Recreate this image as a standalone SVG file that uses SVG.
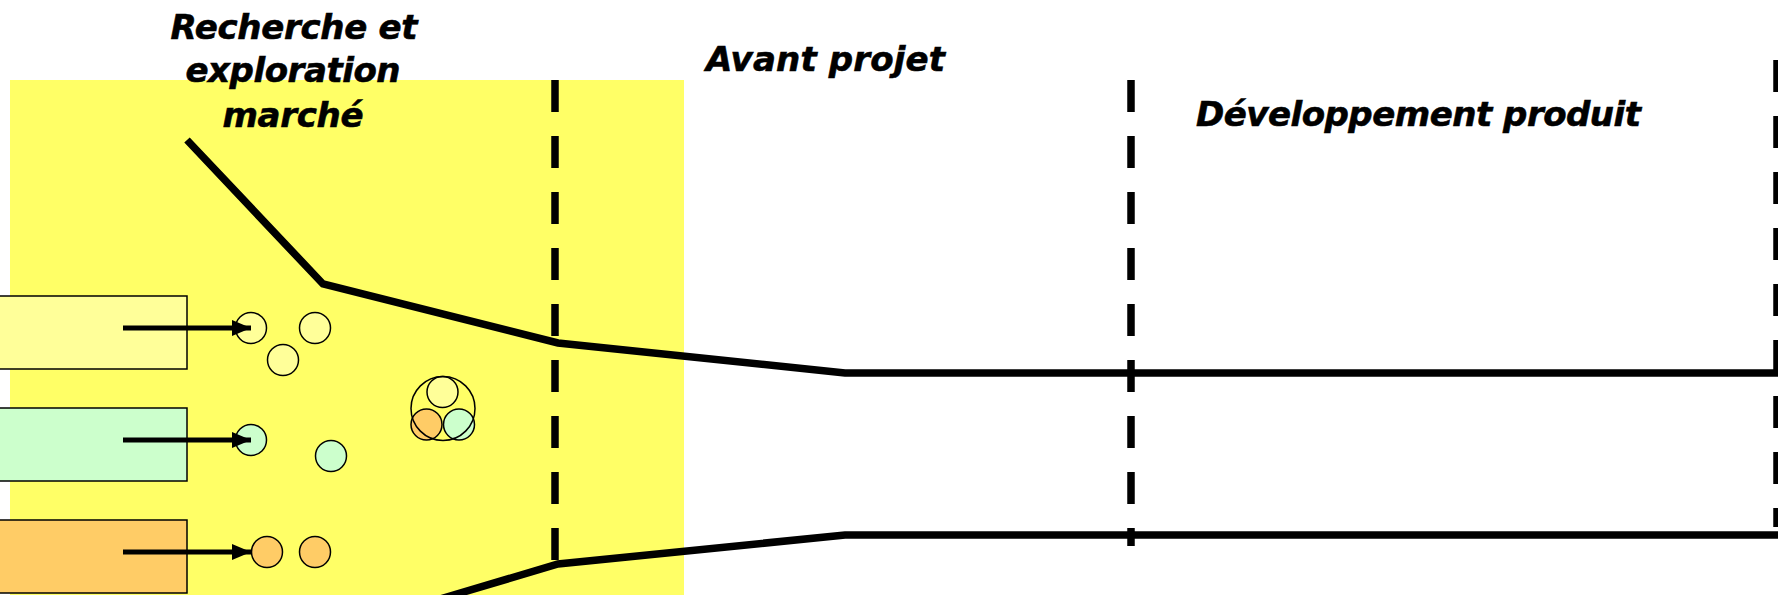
<svg xmlns="http://www.w3.org/2000/svg" width="1778" height="595" viewBox="0 0 1778 595">
<style>
.lbl{font-family:"DejaVu Sans","Liberation Sans",sans-serif;font-weight:bold;font-style:italic;font-size:34px;fill:#000;stroke:#000;stroke-width:0.6}
.phase{fill:none;stroke:#000;stroke-width:7.5;stroke-dasharray:32 24}
.funnel{fill:none;stroke:#000;stroke-width:7.5;stroke-linejoin:miter}
.box{stroke:#000;stroke-width:1.5}
.c{stroke:#000;stroke-width:1.5}
.arr{stroke:#000;stroke-width:5;fill:none}
.y{fill:#FFFF99}.g{fill:#CCFFCC}.o{fill:#FFCC66}
</style>
<defs>
<marker id="ah" markerUnits="userSpaceOnUse" markerWidth="20" markerHeight="16" refX="19" refY="8" orient="auto">
<path d="M0,0 L19,8 L0,16 Z" fill="#000"/>
</marker>
</defs>
<rect width="1778" height="595" fill="#fff"/>
<g id="zone-recherche">
<rect x="10" y="80" width="674" height="515" fill="#FFFF66"/>
</g>
<g id="labels">
<text class="lbl" x="294" y="39" text-anchor="middle" textLength="247">Recherche et</text>
<text class="lbl" x="293" y="82" text-anchor="middle" textLength="215">exploration</text>
<text class="lbl" x="293" y="127" text-anchor="middle" textLength="141">marché</text>
<text class="lbl" x="706" y="71" textLength="239">Avant projet</text>
<text class="lbl" x="1196" y="126" textLength="445">Développement produit</text>
</g>
<g id="phase-lines">
<line class="phase" x1="555" y1="80" x2="555" y2="561"/>
<line class="phase" x1="1131" y1="80" x2="1131" y2="546"/>
<line class="phase" x1="1777" y1="60" x2="1777" y2="527"/>
</g>
<g id="funnel">
<polyline class="funnel" points="187,140 323,284 558,343 845,373 1790,373"/>
<polyline class="funnel" points="420,605 558,564 845,535 1790,535"/>
</g>
<g id="box-1"><rect class="box y" x="-10" y="296" width="197" height="73"/></g>
<g id="box-2"><rect class="box g" x="-10" y="408" width="197" height="73"/></g>
<g id="box-3"><rect class="box o" x="-10" y="520" width="197" height="73"/></g>
<g id="ideas">
<circle class="c y" cx="251" cy="328" r="15.5"/>
<circle class="c y" cx="315" cy="328" r="15.5"/>
<circle class="c y" cx="283" cy="360" r="15.5"/>
<circle class="c g" cx="251" cy="440" r="15.5"/>
<circle class="c g" cx="331" cy="456" r="15.5"/>
<circle class="c o" cx="267" cy="552" r="15.5"/>
<circle class="c o" cx="315" cy="552" r="15.5"/>
</g>
<g id="cluster">
<circle class="c y" cx="442.5" cy="392" r="15.5"/>
<circle class="c o" cx="426.5" cy="424.5" r="15.5"/>
<circle class="c g" cx="459" cy="424.5" r="15.5"/>
<circle class="c" cx="443" cy="408.5" r="32" fill="none"/>
</g>
<g id="connectors">
<line class="arr" x1="123" y1="328" x2="251" y2="328" marker-end="url(#ah)"/>
<line class="arr" x1="123" y1="440" x2="251" y2="440" marker-end="url(#ah)"/>
<line class="arr" x1="123" y1="552" x2="251" y2="552" marker-end="url(#ah)"/>
</g>
</svg>
